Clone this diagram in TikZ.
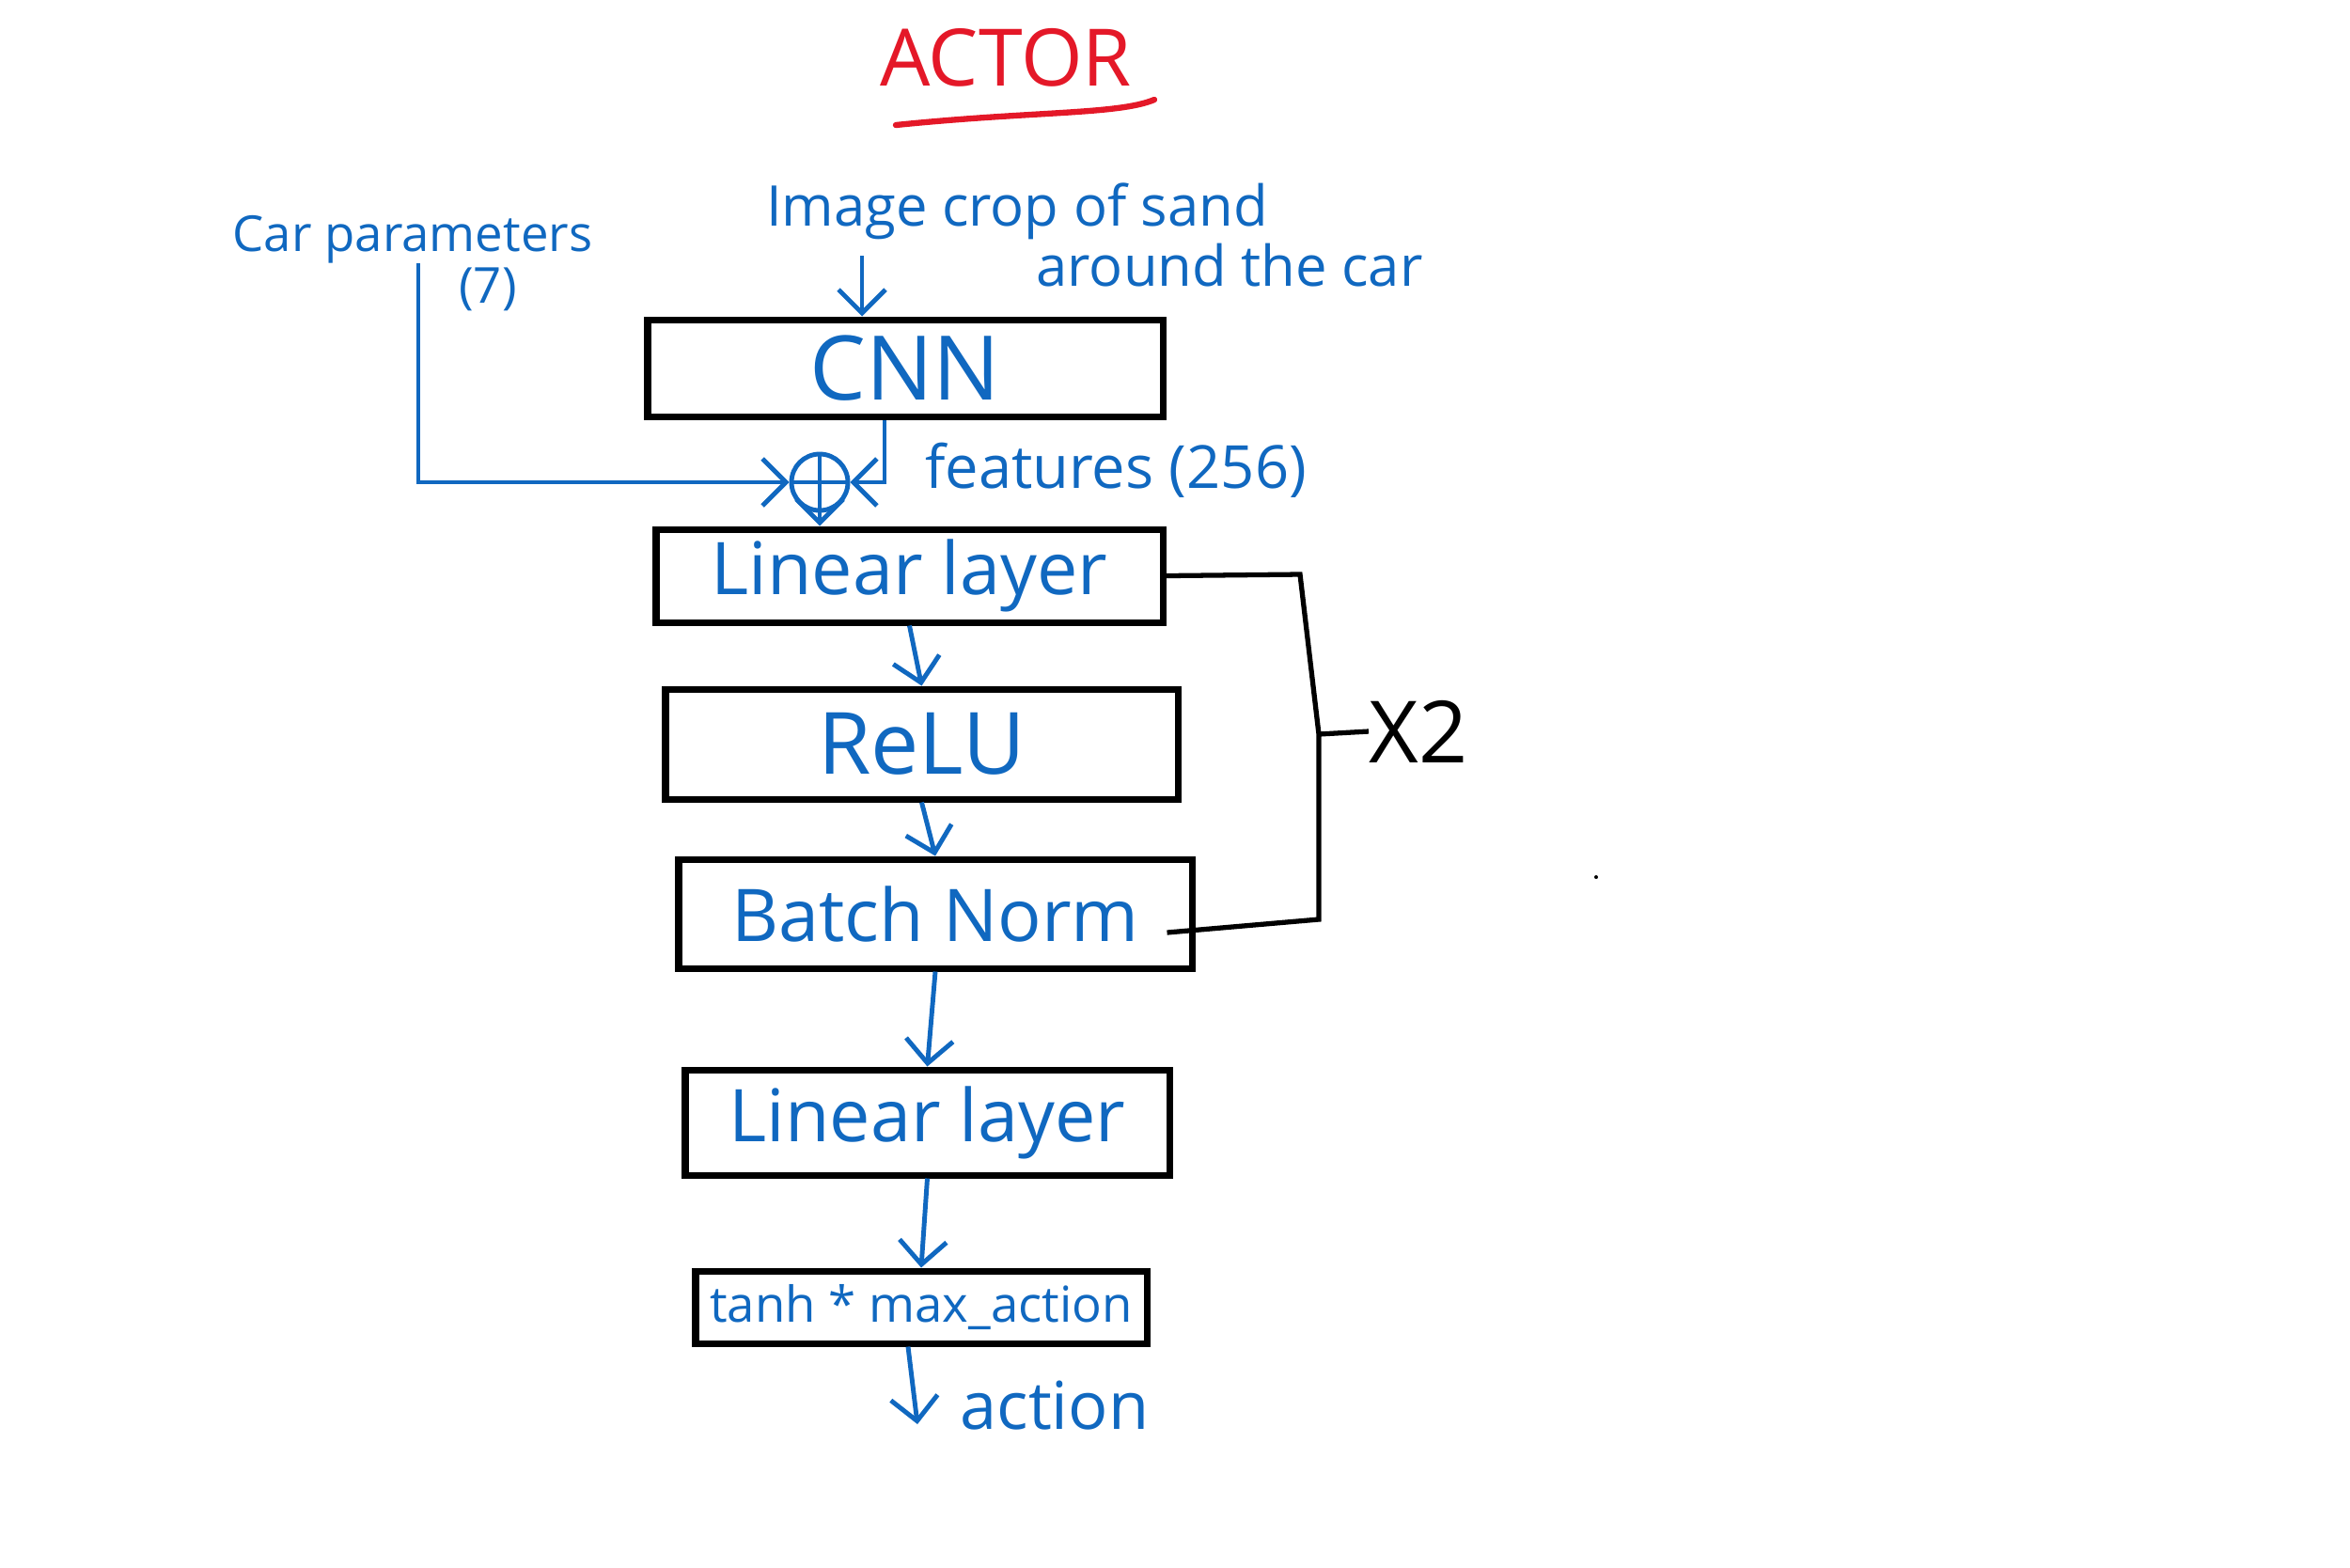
\documentclass[tikz,border=0pt]{standalone}
\usepackage{fontspec}
\setmainfont{Open Sans}
\usetikzlibrary{arrows.meta}
\definecolor{inkblue}{RGB}{16,104,192}
\definecolor{inkred}{RGB}{228,24,40}

\begin{document}
\begin{tikzpicture}[
		layer/.style={draw=black, line width=2pt, text=inkblue, inner sep=0pt},
		note/.style={text=inkblue, inner sep=0pt},
		flow/.style={inkblue, line width=1.4pt, -{Straight Barb[length=2.5mm,width=5mm]}},
		link/.style={inkblue, line width=1.4pt},
		rep/.style={black, line width=1.5pt}
	]
		\path[fill=white] (0,0) rectangle (25,-16.67);
		\useasboundingbox (0,0) rectangle (25,-16.67);
		\node[text=inkred, font=\fontsize{24}{28}\selectfont] (title) at (10.70,-0.61) {ACTOR};
		\draw[inkred, line width=1.8pt, line cap=round] (9.53,-1.33) .. controls (11,-1.18) and (11.9,-1.22) .. (12.28,-1.06);
		\node[note, font=\fontsize{15}{18}\selectfont] (carpar) at (4.39,-2.55) {Car parameters};
		\node[note, font=\fontsize{15}{18}\selectfont] (carnum) at (5.19,-3.08) {(7)};
		\node[note, font=\fontsize{17}{20}\selectfont] (img) at (10.82,-2.25) {Image crop of sand};
		\node[note, font=\fontsize{17}{20}\selectfont] (imgb) at (13.08,-2.82) {around the car};
		\node[layer, minimum width=5.48cm, minimum height=1.03cm, font=\fontsize{27}{30}\selectfont] (cnn) at (9.63,-3.915) {CNN};
		\node[draw=inkblue, line width=1.4pt, circle, minimum size=0.6cm, inner sep=0pt] (sum) at (8.72,-5.13) {};
		\draw[link] (sum.north) -- (sum.south);
		\draw[link] (sum.west) -- (sum.east);
		\node[note, font=\fontsize{18}{22}\selectfont] (feat) at (11.87,-5.0) {features (256)};
		\node[layer, minimum width=5.39cm, minimum height=0.99cm, font=\fontsize{22}{26}\selectfont] (lin1) at (9.675,-6.125) {Linear layer};
		\node[layer, minimum width=5.45cm, minimum height=1.17cm, font=\fontsize{26}{30}\selectfont] (relu) at (9.805,-7.915) {ReLU};
		\node[layer, minimum width=5.46cm, minimum height=1.16cm, font=\fontsize{22}{26}\selectfont] (bn) at (9.95,-9.72) {Batch Norm};
		\node[layer, minimum width=5.15cm, minimum height=1.12cm, font=\fontsize{22}{26}\selectfont] (lin2) at (9.865,-11.94) {Linear layer};
		\node[layer, minimum width=4.80cm, minimum height=0.77cm, font=\fontsize{15}{18}\selectfont] (out) at (9.80,-13.905) {tanh * max\_action};
		\node[note, font=\fontsize{20}{24}\selectfont] (act) at (11.22,-14.95) {action};
		\node[inner sep=0pt, anchor=west, font=\fontsize{26}{30}\selectfont] (times) at (14.56,-7.78) {X2};
		\coordinate (carin) at (4.45,-2.80);
		\coordinate (imgin) at (9.17,-2.72);
		\coordinate (brtop) at (13.83,-6.11);
		\coordinate (brmid) at (14.03,-7.81);
		\coordinate (brbot) at (14.03,-9.78);
		\coordinate (actend) at (9.76,-15.15);
		\draw[flow] (imgin) -- (imgin |- cnn.north);
		\draw[flow] (carin) |- (sum.west);
		\draw[flow] ([xshift=-0.22cm]cnn.south) |- (sum.east);
		\draw[flow] (sum.south) -- (sum.south |- lin1.north);
		\draw[flow] (lin1.south) -- (relu.north);
		\draw[flow] (relu.south) -- (bn.north);
		\draw[flow] (bn.south) -- (lin2.north);
		\draw[flow] (lin2.south) -- (out.north);
		\draw[flow] ([xshift=-0.14cm]out.south) -- (actend);
		\draw[rep] (lin1.east) -- (brtop) -- (brmid) -- (brbot) -- ([shift={(-0.3,-0.2)}]bn.east);
		\draw[rep] (brmid) -- (times.west);
		\fill (16.98,-9.33) circle (0.02);
	% actor network
	\end{tikzpicture}
\end{document}
